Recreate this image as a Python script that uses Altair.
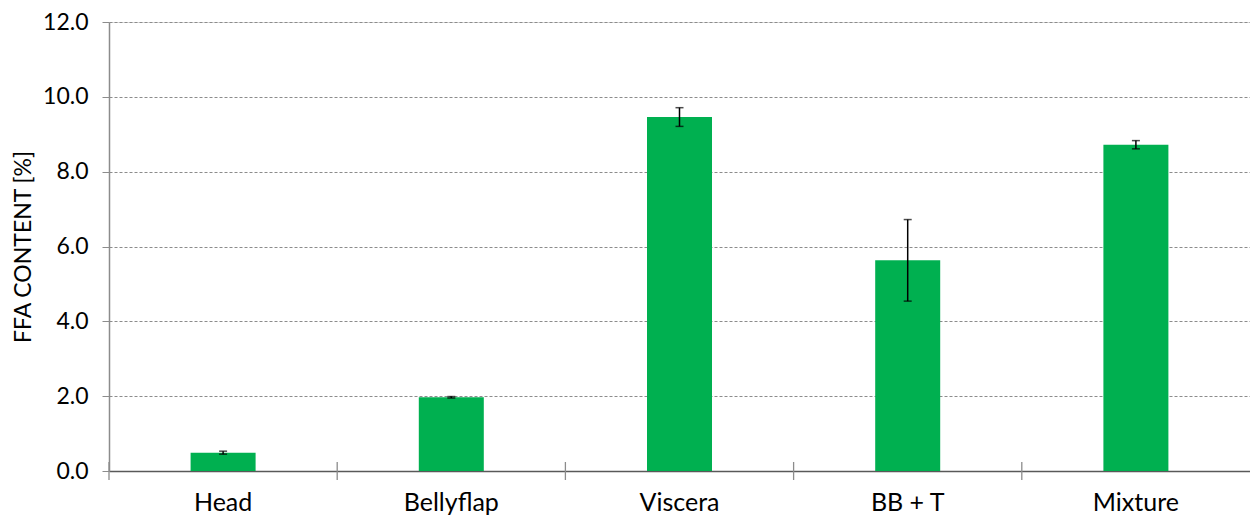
import altair as alt
import pandas as pd

categories = ["Head", "Bellyflap", "Viscera", "BB + T", "Mixture"]
values = [0.49, 1.97, 9.46, 5.63, 8.72]
errors = [0.04, 0.02, 0.25, 1.09, 0.11]
y_ticks = [0, 2, 4, 6, 8, 10, 12]

df = pd.DataFrame({"cat": categories, "val": values, "err": errors})
df["lo"] = df["val"] - df["err"]
df["hi"] = df["val"] + df["err"]

W = 1141
H = 449
FONT = "Lato"

xenc = alt.X("cat:N", sort=categories,
             scale=alt.Scale(paddingInner=0, paddingOuter=0),
             axis=alt.Axis(title=None, labelAngle=0, labelFontSize=25, labelColor="#000000",
                           labelFont=FONT, ticks=False, domain=True, domainColor="#595959",
                           domainWidth=1.3, labelPadding=19, grid=False))
yscale = alt.Scale(domain=[0, 12], nice=False, zero=True)

base = alt.Chart(df)

bars = base.mark_bar(color="#00B050", size=65).encode(
    x=xenc,
    y=alt.Y("val:Q", scale=yscale,
            axis=alt.Axis(values=y_ticks, format=".1f", title="FFA CONTENT [%]",
                          titleFontSize=23, titleFontWeight="normal", titleFont=FONT,
                          titleColor="#000000", labelFont=FONT, labelFontSize=23,
                          labelColor="#000000", labelPadding=14,
                          domainColor="#8c8c8c", domainWidth=1.5,
                          tickColor="#8c8c8c", tickSize=7, tickWidth=1,
                          grid=True, gridColor="#8c8c8c", gridDash=[3, 2], gridWidth=1,
                          titleX=-86, titleY=H / 2, titleAlign="center",
                          titleBaseline="middle", titleAngle=-90)),
)

err_line = base.mark_rule(color="#000000", strokeWidth=1.5).encode(
    x=alt.X("cat:N", sort=categories), y=alt.Y("lo:Q", scale=yscale), y2="hi:Q"
)
cap_lo = base.mark_tick(color="#000000", size=8, thickness=1.5, orient="horizontal").encode(
    x=alt.X("cat:N", sort=categories), y=alt.Y("lo:Q", scale=yscale)
)
cap_hi = base.mark_tick(color="#000000", size=8, thickness=1.5, orient="horizontal").encode(
    x=alt.X("cat:N", sort=categories), y=alt.Y("hi:Q", scale=yscale)
)

sep_ticks = base.mark_rule(color="#8c8c8c", strokeWidth=1.3).encode(
    x=alt.X("cat:N", sort=categories, bandPosition=0),
    y=alt.value(H - 9), y2=alt.value(H + 9),
)

chart = alt.layer(bars, sep_ticks, err_line, cap_lo, cap_hi).properties(
    width=W, height=H,
    autosize=alt.AutoSizeParams(type="none"),
    padding={"left": 101, "top": 14, "right": 0, "bottom": 48},
).configure_view(stroke=None).configure(font=FONT)

chart.save("out.html", embed_options={"renderer": "svg", "actions": False})
